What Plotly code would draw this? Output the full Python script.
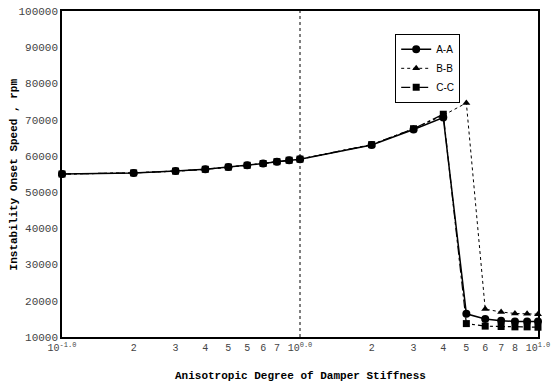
import plotly.graph_objects as go

x_vals = [0.1, 0.2, 0.3, 0.4, 0.5, 0.6, 0.7, 0.8, 0.9, 1.0, 2, 3, 4, 5, 6, 7, 8, 9, 10]
aa = [55000, 55300, 55800, 56300, 56900, 57400, 57900, 58400, 58800, 59100,
      63000, 67300, 70600, 16400, 15000, 14500, 14300, 14300, 14300]
bb = [55000, 55300, 55800, 56300, 56900, 57400, 57900, 58400, 58800, 59100,
      63100, 67500, 71200, 74600, 17700, 16900, 16500, 16400, 16300]
cc = [55000, 55300, 55800, 56300, 56900, 57400, 57900, 58400, 58800, 59100,
      63100, 67500, 71500, 13700, 13000, 12900, 12800, 12800, 12700]

x_tickvals = [0.1, 0.2, 0.3, 0.4, 0.5, 0.6, 0.7, 0.8, 1.0, 2, 3, 4, 5, 6, 7, 8, 10]
x_ticktext = ["10<sup>-1.0</sup>", "2", "3", "4", "5", "5", "6", "7", "10<sup>0.0</sup>",
              "2", "3", "4", "5", "6", "7", "8", "10<sup>1.0</sup>"]
y_tickvals = [10000, 20000, 30000, 40000, 50000, 60000, 70000, 80000, 90000, 100000]
y_ticktext = ["10000", "20000", "30000", "40000", "50000", "60000", "70000",
              "80000", "90000", "100000"]
x_title = "Anisotropic Degree of Damper Stiffness"
y_title = "Instability Onset Speed , rpm"

fig = go.Figure()
fig.add_trace(go.Scatter(x=x_vals, y=aa, name="A-A", mode="lines+markers", cliponaxis=False,
                         line=dict(color="black", width=1.5, dash="solid"),
                         marker=dict(symbol="circle", size=8, color="black")))
fig.add_trace(go.Scatter(x=x_vals, y=bb, name="B-B", mode="lines+markers", cliponaxis=False,
                         line=dict(color="black", width=1, dash="dot"),
                         marker=dict(symbol="triangle-up", size=7, color="black")))
fig.add_trace(go.Scatter(x=x_vals, y=cc, name="C-C", mode="lines+markers", cliponaxis=False,
                         line=dict(color="black", width=1.2, dash="dashdot"),
                         marker=dict(symbol="square", size=7, color="black")))

fig.add_shape(type="line", x0=1.0, x1=1.0, xref="x", y0=0, y1=1, yref="paper",
              line=dict(color="black", width=1, dash="dot"))

mono = "Liberation Mono"
fig.add_annotation(text="<b>" + x_title + "</b>", xref="paper", yref="paper",
                   x=0.5, y=-0.095, yanchor="top", xanchor="center", showarrow=False,
                   font=dict(family=mono, size=11, color="black"))
fig.add_annotation(text="<b>" + y_title + "</b>", xref="paper", yref="paper",
                   x=-0.1, y=0.5, xanchor="center", yanchor="middle", showarrow=False,
                   textangle=-90, font=dict(family=mono, size=11, color="black"))

fig.update_layout(
    width=559, height=386,
    margin=dict(l=62, r=21, t=11, b=49),
    paper_bgcolor="white", plot_bgcolor="white",
    showlegend=True,
    legend=dict(x=0.70, y=0.93, xanchor="left", yanchor="top",
                bordercolor="black", borderwidth=1, bgcolor="white",
                font=dict(family="Liberation Sans", size=10, color="black"),
                tracegroupgap=0, itemwidth=30),
    xaxis=dict(type="log", range=[-1, 1], tickvals=x_tickvals, ticktext=x_ticktext,
               showgrid=False, zeroline=False, showline=True, linecolor="black",
               linewidth=1.5, mirror=True, ticks="", automargin=False,
               tickfont=dict(family=mono, size=10, color="#444")),
    yaxis=dict(range=[10000, 100000], tickvals=y_tickvals, ticktext=y_ticktext,
               showgrid=False, zeroline=False, showline=True, linecolor="black",
               linewidth=1.5, mirror=True, ticks="", automargin=False,
               tickfont=dict(family=mono, size=11, color="#444")),
)

fig.write_html("out.html")
